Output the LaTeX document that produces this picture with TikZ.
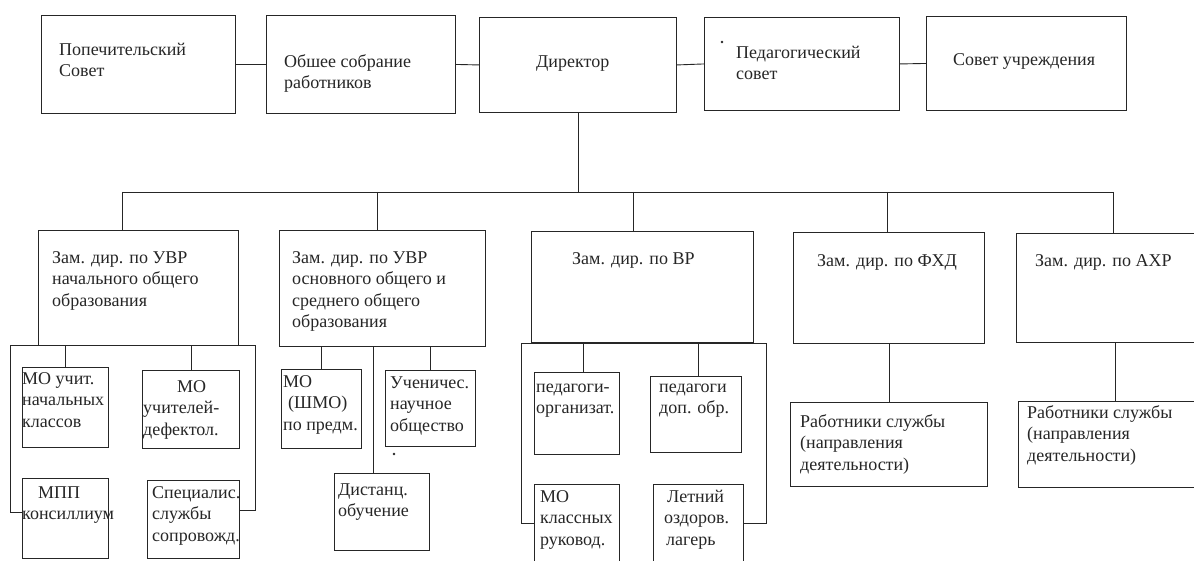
\documentclass[tikz,border=0pt]{standalone}
\usepackage{fontspec}
\setmainfont{Liberation Serif}
\tikzset{
 box/.style={draw=black!85, line width=0.9pt, rectangle, inner sep=0pt, anchor=north west},
 txt/.style={anchor=north west, inner sep=0pt, align=left, font=\fontsize{18}{21.5}\selectfont, text=black!85},
 conn/.style={draw=black!85, line width=0.9pt},
}
\newcommand\mybox[5]{\node[box, minimum width={#4-#2}, minimum height={#5-#3}] (#1) at (#2,#3) {};}
\begin{document}
\begin{tikzpicture}[x=1pt,y=-1pt]
\useasboundingbox (0,0) rectangle (1194,561);
\clip (0,0) rectangle (1194,561);
\fill[white] (0,0) rectangle (1194,561);
% top row
\mybox{A}{41}{15}{235}{113}
\mybox{B}{266}{15}{455}{113}
\mybox{C}{479}{17}{676}{112}
\mybox{D}{704}{17}{899}{110}
\mybox{E}{926}{16}{1126}{110}
\node[txt] (tA) at (59,40) {\strut Попечительский\\Совет};
\node[txt] (tB) at (284,52) {\strut Обшее собрание\\работников};
\node[txt] (tC) at (536,52) {\strut Директор};
\node[txt] (tD) at (736,43) {\strut Педагогический\\совет};
\node[txt] (tE) at (953,50) {\strut Совет учреждения};
\draw[conn] (A.east) -- (B.west);
\draw[conn] (B.east) -- (C.west);
\draw[conn] (C.east) -- (D.west);
\draw[conn] (D.east) -- (E.west);
% level 2
\mybox{F}{38}{230}{238}{345}
\mybox{G}{279}{230}{485}{346}
\mybox{H}{531}{231}{753}{342}
\mybox{I}{793}{232}{984}{343}
\mybox{J}{1016}{233}{1230}{342}
\node[txt] (tF) at (52,248) {\strut Зам. дир. по УВР\\начального общего\\образования};
\node[txt] (tG) at (292,248) {\strut Зам. дир. по УВР\\основного общего и\\среднего общего\\образования};
\node[txt] (tH) at (572,249) {\strut Зам. дир. по ВР};
\node[txt] (tI) at (817,251) {\strut Зам. дир. по ФХД};
\node[txt] (tJ) at (1035,251) {\strut Зам. дир. по АХР};
\coordinate (busL) at (122,192);
\coordinate (busR) at (1113,192);
\coordinate (bG) at (377,192);
\coordinate (bH) at (633,192);
\coordinate (bI) at (887,192);
\draw[conn] (C.south) -- (C.south |- busL);
\draw[conn] (busL) -- (busR);
\draw[conn] (busL) -- (busL |- F.north);
\draw[conn] (bG) -- (bG |- G.north);
\draw[conn] (bH) -- (bH |- H.north);
\draw[conn] (bI) -- (bI |- I.north);
\draw[conn] (busR) -- (busR |- J.north);
% level 3 under F
\mybox{F1}{22}{367}{108}{447}
\mybox{F2}{142}{370}{239}{448}
\mybox{F3}{22}{478}{108}{558}
\mybox{F4}{147}{480}{239}{558}
\node[txt] (tF1) at (22,369) {\strut МО учит.\\начальных\\классов};
\node[txt] (tF2) at (143,377) {\strut\hspace*{34pt}МО\\учителей-\\дефектол.};
\node[txt] (tF3) at (22,483) {\strut\hspace*{16pt}МПП\\консиллиум};
\node[txt] (tF4) at (152,483) {\strut Специалис.\\службы\\сопровожд.};
\coordinate (fL) at (10,345);
\coordinate (fR) at (255,345);
\coordinate (fLb) at (10,512);
\coordinate (fRb) at (255,510);
\draw[conn] (fL) -- (fR);
\draw[conn] (fL) -- (fLb) -- (fLb -| F3.west);
\draw[conn] (fR) -- (fRb) -- (fRb -| F4.east);
\draw[conn] (F1.north) -- (F1.north |- fL);
\draw[conn] (F2.north) -- (F2.north |- fL);
% level 3 under G
\mybox{G1}{281}{369}{361}{448}
\mybox{G2}{385}{370}{475}{446}
\mybox{G3}{334}{473}{429}{550}
\node[txt] (tG1) at (283,372) {\strut МО\\\hspace*{5pt}(ШМО)\\по предм.};
\node[txt] (tG2) at (390,373) {\strut Ученичес.\\научное\\общество};
\node[txt] (tG3) at (338,480) {\strut Дистанц.\\обучение};
\coordinate (g3) at (373,346);
\draw[conn] (G1.north) -- (G1.north |- G.south);
\draw[conn] (G2.north) -- (G2.north |- G.south);
\draw[conn] (g3) -- (g3 |- G3.north);
\fill[black!85] (394,454) circle (1.3pt);
\fill[black!85] (722,42) circle (1.3pt);
% level 3 under H
\mybox{H1}{534}{372}{619}{454}
\mybox{H2}{650}{376}{741}{452}
\mybox{H3}{534}{484}{619}{600}
\mybox{H4}{653}{484}{743}{600}
\node[txt] (tH1) at (536,377) {\strut педагоги-\\организат.};
\node[txt] (tH2) at (659,377) {\strut педагоги\\доп. обр.};
\node[txt] (tH3) at (540,487) {\strut МО\\классных\\руковод.};
\node[txt] (tH4) at (664,487) {\strut\hspace*{3pt}Летний\\оздоров.\\\hspace*{2pt}лагерь};
\coordinate (hL) at (521,343);
\coordinate (hR) at (766,343);
\coordinate (hLb) at (521,523);
\coordinate (hRb) at (766,523);
\coordinate (h1) at (583,343);
\coordinate (h2) at (698,343);
\draw[conn] (hL) -- (hR);
\draw[conn] (hL) -- (hLb) -- (hLb -| H3.west);
\draw[conn] (hR) -- (hRb) -- (hRb -| H4.east);
\draw[conn] (h1) -- (h1 |- H1.north);
\draw[conn] (h2) -- (h2 |- H2.north);
% level 3 under I and J
\mybox{I1}{790}{402}{987}{486}
\mybox{J1}{1018}{401}{1230}{487}
\node[txt] (tI1) at (800,412) {\strut Работники службы\\(направления\\деятельности)};
\node[txt] (tJ1) at (1027,403) {\strut Работники службы\\(направления\\деятельности)};
\draw[conn] (I.south) -- (I1.north);
\coordinate (j1) at (1115,342);
\draw[conn] (j1) -- (j1 |- J1.north);
\end{tikzpicture}
\end{document}
